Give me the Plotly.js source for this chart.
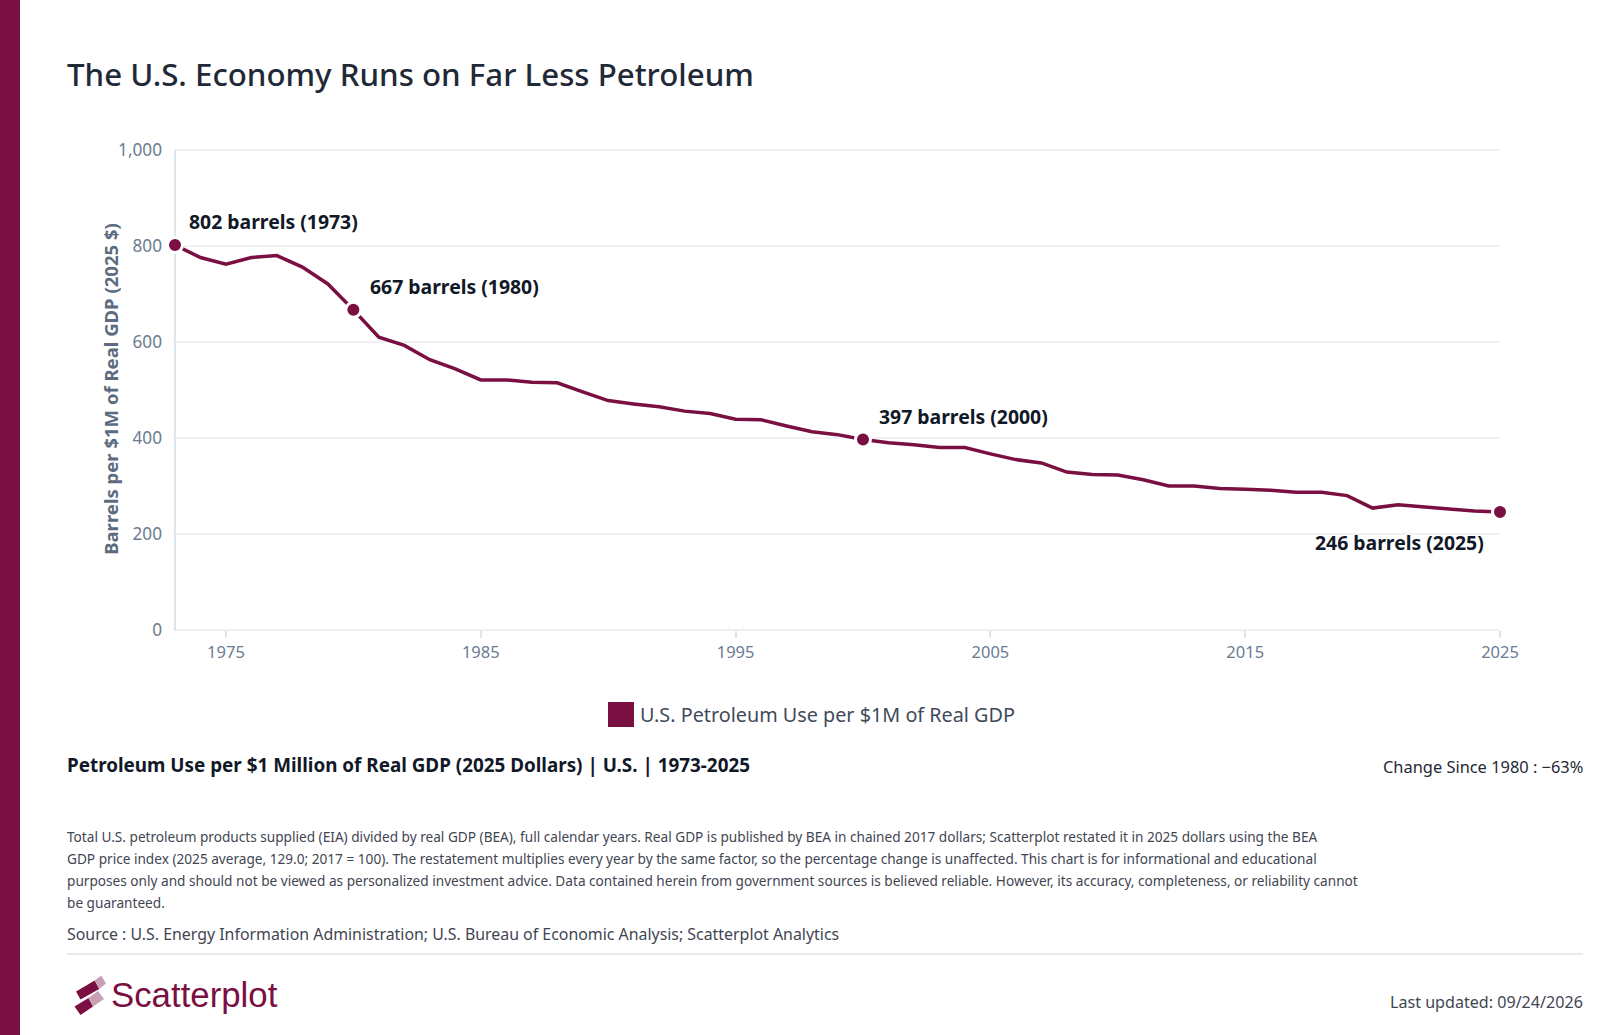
<!DOCTYPE html>
<html><head><meta charset="utf-8">
<script src="https://cdn.plot.ly/plotly-3.0.1.min.js"></script>
<style>html,body{margin:0;padding:0;background:#fff;overflow:hidden}#c{width:1600px;height:1035px}</style>
</head><body><div id="c"></div>
<script>
const years=[1973,1974,1975,1976,1977,1978,1979,1980,1981,1982,1983,1984,1985,1986,1987,1988,1989,1990,1991,1992,1993,1994,1995,1996,1997,1998,1999,2000,2001,2002,2003,2004,2005,2006,2007,2008,2009,2010,2011,2012,2013,2014,2015,2016,2017,2018,2019,2020,2021,2022,2023,2024,2025];
const barrels=[802,776,762,776,780,756,721,667,610,593,563,544,521,521,516,515,496,478,471,465,456,451,439,438,425,413,407,397,390,386,380,380,367,355,348,329,324,323,313,300,300,295,293,291,287,287,280,254,261,256,252,248,246];
const highlightYears=[1973,1980,2000,2025];
const highlightValues=[802,667,397,246];
const xTicks=[1975,1985,1995,2005,2015,2025];
const yTicks=[0,200,400,600,800,1000];
const yTickText=['0','200','400','600','800','1,000'];
const seriesName='U.S. Petroleum Use per $1M of Real GDP';
const chartTitle='The U.S. Economy Runs on Far Less Petroleum';
const yTitle='Barrels per $1M of Real GDP (2025 $)';
const subTitle='Petroleum Use per $1 Million of Real GDP (2025 Dollars) | U.S. | 1973-2025';
const changeText='Change Since 1980 : −63%';
const noteLines=['Total U.S. petroleum products supplied (EIA) divided by real GDP (BEA), full calendar years. Real GDP is published by BEA in chained 2017 dollars; Scatterplot restated it in 2025 dollars using the BEA',
'GDP price index (2025 average, 129.0; 2017 = 100). The restatement multiplies every year by the same factor, so the percentage change is unaffected. This chart is for informational and educational',
'purposes only and should not be viewed as personalized investment advice. Data contained herein from government sources is believed reliable. However, its accuracy, completeness, or reliability cannot',
'be guaranteed.'];
const sourceText='Source : U.S. Energy Information Administration; U.S. Bureau of Economic Analysis; Scatterplot Analytics';
const updatedText='Last updated: 09/24/2026';

const W=1600,H=1035,L=175,R=1500,T=150,B=630;
const px=x=>(x-L)/(R-L), py=y=>(B-y)/(B-T);
const FONT='"Noto Sans", sans-serif', MAROON='#7a0f42', LIGHT='#c99fb4', GRID='#f1f1f4';
function label(text,x,y,size,color,anchor,weight,family){return {text:text,xref:'paper',yref:'paper',x:px(x),y:py(y),xanchor:anchor||'left',yanchor:'middle',showarrow:false,borderpad:0,font:{family:family||FONT,size:size,color:color,weight:weight||400}};}
function pt(text,x,y,dx,dy,anchor){return {text:text,xref:'x',yref:'y',x:x,y:y,xanchor:anchor,yanchor:'middle',xshift:dx,yshift:dy,showarrow:false,font:{family:FONT,size:19.4,color:'#111827',weight:700}};}
function poly(pts,color){const d='M'+pts.map(p=>px(p[0])+','+py(p[1])).join('L')+'Z';return {type:'path',xref:'paper',yref:'paper',path:d,fillcolor:color,line:{width:0},layer:'above'};}
function rect(x0,y0,x1,y1,color){return {type:'rect',xref:'paper',yref:'paper',x0:px(x0),x1:px(x1),y0:py(y0),y1:py(y1),fillcolor:color,line:{width:0},layer:'below'};}

const yTitleLabel=label(yTitle,110.5,389.3,18.55,'#5b6b80','center',700);
yTitleLabel.textangle=-90;
const annotations=[
 yTitleLabel,
 label(chartTitle,66,73.8,31.25,'#1f2937','left',500),
 label(seriesName,639,714,19.8,'#3f4a5a'),
 label(subTitle,66,765,18.85,'#111827','left',700),
 label(changeText,1584,766,16.4,'#1f2937','right'),
 label(noteLines[0],66,836,13.63,'#3f4652'),
 label(noteLines[1],66,858,13.63,'#3f4652'),
 label(noteLines[2],66,880,13.63,'#3f4652'),
 label(noteLines[3],66,902,13.63,'#3f4652'),
 label(sourceText,66,934,15.9,'#3f4652'),
 label(updatedText,1584,1002,16.1,'#3f4652','right'),
 label('Scatterplot',110,995,34.8,MAROON,'left',400,'"Liberation Sans", Arial, sans-serif'),
 pt('802 barrels (1973)',1973,802,12,24,'left'),
 pt('667 barrels (1980)',1980,667,15,23,'left'),
 pt('397 barrels (2000)',2000,397,14,23,'left'),
 pt('246 barrels (2025)',2025,246,-14,-31,'right')
];
const shapes=[
 rect(0,0,20,H,MAROON),
 rect(608,702,634,727,MAROON),
 rect(67,953,1583,955,'#e9e9f0'),
 rect(L,T-1,R,T+1,GRID),
 rect(L,B-1,R,B+1,'#eef0f4'),
 rect(L-1,T,L+1,B+1,'#dde4ec'),
 poly([[76,991.5],[94.7,980.5],[99.2,989],[80.5,999.5]],MAROON),
 poly([[94.7,980.5],[101.3,975.5],[106,983.5],[99.2,989]],LIGHT),
 poly([[74.5,1006.5],[88.5,998],[93,1006.5],[80.5,1015]],MAROON),
 poly([[88.5,998],[98,991],[104,999],[93,1006.5]],LIGHT)
];
Plotly.newPlot('c',[
 {type:'scatter',mode:'lines',x:years,y:barrels,name:seriesName,line:{color:MAROON,width:3.5},hoverinfo:'x+y',cliponaxis:false},
 {type:'scatter',mode:'markers',x:highlightYears,y:highlightValues,showlegend:false,cliponaxis:false,marker:{color:MAROON,size:15,line:{color:'#ffffff',width:3}}}
],{
 width:W,height:H,margin:{l:L,r:W-R,t:T,b:H-B,pad:0},paper_bgcolor:'#fff',plot_bgcolor:'#fff',showlegend:false,
 xaxis:{range:[1973,2025],tickmode:'array',tickvals:xTicks,ticktext:xTicks.map(String),ticks:'outside',ticklen:7,tickwidth:2,tickcolor:'#dde4ec',showgrid:false,zeroline:false,showline:false,tickfont:{family:FONT,size:16.5,color:'#6b7c93'}},
 yaxis:{range:[0,1000],tickmode:'array',tickvals:yTicks,ticktext:yTickText,ticks:'',ticklabelstandoff:12,showgrid:true,gridcolor:GRID,gridwidth:2,zeroline:false,showline:false,tickfont:{family:FONT,size:17.2,color:'#6b7c93'}},
 annotations:annotations,shapes:shapes
},{displayModeBar:false,staticPlot:true});
</script></body></html>
